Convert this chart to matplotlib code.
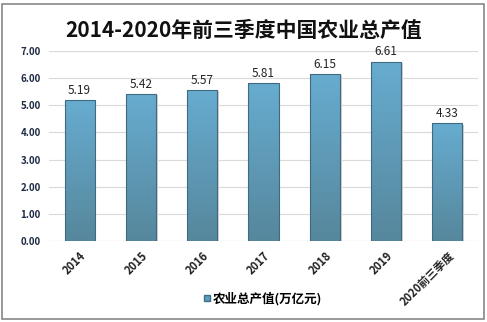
import matplotlib
matplotlib.use("Agg")
import matplotlib.pyplot as plt
import numpy as np
from matplotlib.patches import Rectangle
from matplotlib.colors import LinearSegmentedColormap
from matplotlib.lines import Line2D

plt.rcParams['font.family'] = ['Noto Sans CJK SC', 'DejaVu Sans']

categories = ["2014", "2015", "2016", "2017", "2018", "2019", "2020前三季度"]
values = [5.19, 5.42, 5.57, 5.81, 6.15, 6.61, 4.33]
title = "2014-2020年前三季度中国农业总产值"
legend_label = "农业总产值(万亿元)"

fig = plt.figure(figsize=(4.87, 3.22), dpi=100)
ax = fig.add_axes([49/487, 1-241/322, 429/487, 190/322])

x = np.arange(len(categories))
bars = ax.bar(x, values, width=0.49, facecolor='none', edgecolor='#3f6a80',
              linewidth=0.8, zorder=3, label=legend_label)
cmap = LinearSegmentedColormap.from_list('g', ['#56879c', '#67acd0'])
grad = np.linspace(0, 1, 256).reshape(-1, 1)
for b in bars:
    x0, y0 = b.get_x(), b.get_y()
    w, h = b.get_width(), b.get_height()
    im = ax.imshow(grad, extent=[x0, x0 + w, y0, y0 + h], origin='lower',
                   cmap=cmap, aspect='auto', zorder=2)
    im.set_clip_path(b)
    ax.add_patch(Rectangle((x0 + 0.03, y0), w, h - 0.04, facecolor='#d0d0d0',
                           edgecolor='none', zorder=1.5))
for xi, v in zip(x, values):
    ax.text(xi, v + 0.12, f"{v:.2f}", ha='center', va='bottom', fontsize=8.5,
            color='#222222', zorder=4)

ax.set_xlim(-0.5, len(categories) - 0.5)
ax.set_ylim(0, 7)
ax.set_yticks(np.arange(0, 7.01, 1))
ax.set_yticklabels([f"{t:.2f}" for t in np.arange(0, 7.01, 1)], fontsize=7,
                   fontweight='bold', color='#1e2a44')
ax.set_xticks(x)
ax.set_xticklabels(categories, rotation=45, ha='right', rotation_mode='anchor',
                   fontsize=8, fontweight='bold', color='#222222')
ax.tick_params(length=0, pad=6)
ax.yaxis.grid(True, color='#d9d9d9', linewidth=0.8, zorder=0)
for s in ax.spines.values():
    s.set_visible(False)
ax.axhline(0, color='#d9d9d9', linewidth=0.8, zorder=1)

fig.text(0.5, 1 - 30/322, title, ha='center', va='center', fontsize=15,
         fontweight='bold', color='#111111')

h = Line2D([], [], marker='s', linestyle='none', markersize=5,
           markerfacecolor='#5b9dbf', markeredgecolor='#3f6f86')
fig.legend([h], [legend_label], loc='center', bbox_to_anchor=(262/487, 1-299/322),
           frameon=False, handletextpad=0.1, handlelength=0.8,
           prop={'weight': 'bold', 'size': 9})

fig.add_artist(Rectangle((2/487, 3/322), 482/487, 315/322, transform=fig.transFigure,
                         fill=False, edgecolor='#888888', linewidth=1.2))

fig.savefig("out.png", dpi=100)
